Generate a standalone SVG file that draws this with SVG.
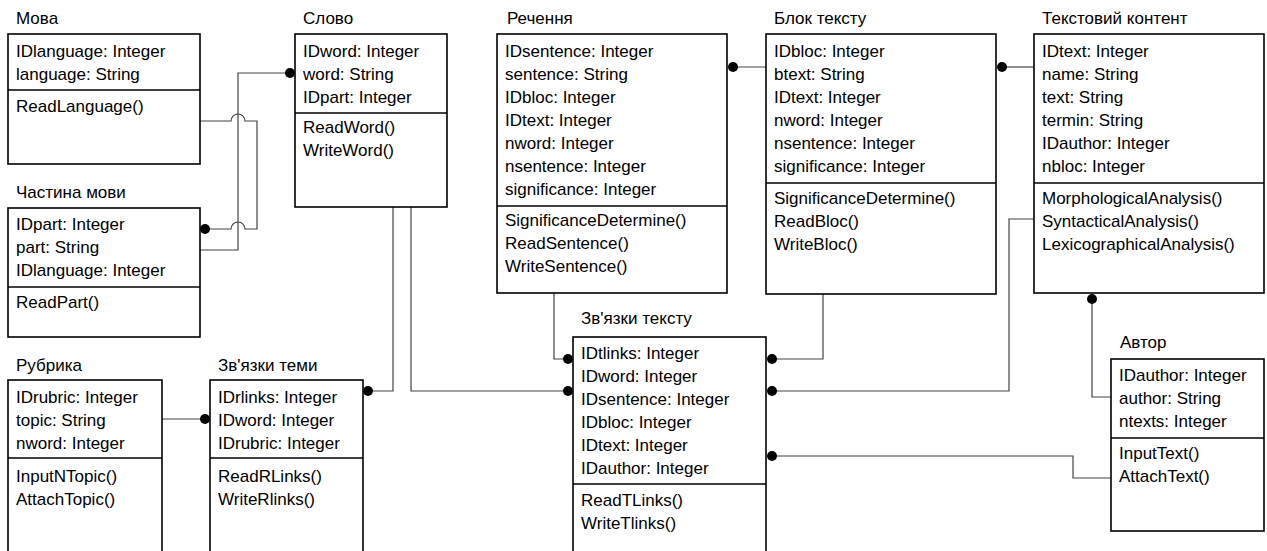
<svg xmlns="http://www.w3.org/2000/svg" width="1267" height="551" viewBox="0 0 1267 551">
<style>
text{font-family:"Liberation Sans",Arial,sans-serif;font-size:17px;fill:#000}
.box{fill:#fff;stroke:#000;stroke-width:1.6}
.div{stroke:#000;stroke-width:1.6}
.c{fill:none;stroke:#444;stroke-width:1.2}
.dot{fill:#000}
</style>
<rect width="1267" height="551" fill="#fff"/>
<g id="connectors">
<path class="c" d="M290,73 H238 V250 H200"/>
<path class="c" d="M200,121 H231 A7,7 0 0 1 245,121 H257 V229 H245 A7,7 0 0 0 231,229 H205"/>
<path class="c" d="M162,419 H205"/>
<path class="c" d="M393,207 V391 H368"/>
<path class="c" d="M411,207 V391 H568"/>
<path class="c" d="M554,293 V359 H568"/>
<path class="c" d="M733,67 H766"/>
<path class="c" d="M1002,67 H1034"/>
<path class="c" d="M823,294 V359 H772"/>
<path class="c" d="M1034,219 H1009 V391 H772"/>
<path class="c" d="M1092,299 V397 H1111"/>
<path class="c" d="M1111,478 H1073 V456 H772"/>
<circle class="dot" cx="290" cy="73" r="5"/>
<circle class="dot" cx="205" cy="229" r="5"/>
<circle class="dot" cx="205" cy="419" r="5"/>
<circle class="dot" cx="368" cy="391" r="5"/>
<circle class="dot" cx="568" cy="391" r="5"/>
<circle class="dot" cx="568" cy="359" r="5"/>
<circle class="dot" cx="733" cy="67" r="5"/>
<circle class="dot" cx="1002" cy="67" r="5"/>
<circle class="dot" cx="772" cy="359" r="5"/>
<circle class="dot" cx="772" cy="391" r="5"/>
<circle class="dot" cx="772" cy="456" r="5"/>
<circle class="dot" cx="1092" cy="299" r="5"/>
</g>
<g id="mova">
<text x="16" y="24">Мова</text>
<rect class="box" x="8" y="34" width="192" height="130"/>
<line class="div" x1="8" y1="90" x2="200" y2="90"/>
<text x="16" y="57">IDlanguage: Integer</text>
<text x="16" y="80">language: String</text>
<text x="16" y="112">ReadLanguage()</text>
</g>
<g id="chastyna">
<text x="16" y="198">Частина мови</text>
<rect class="box" x="8" y="208" width="192" height="129"/>
<line class="div" x1="8" y1="287" x2="200" y2="287"/>
<text x="16" y="230">IDpart: Integer</text>
<text x="16" y="253">part: String</text>
<text x="16" y="276">IDlanguage: Integer</text>
<text x="16" y="308">ReadPart()</text>
</g>
<g id="slovo">
<text x="303" y="24">Слово</text>
<rect class="box" x="295" y="34" width="152" height="173"/>
<line class="div" x1="295" y1="113" x2="447" y2="113"/>
<text x="303" y="57">IDword: Integer</text>
<text x="303" y="80">word: String</text>
<text x="303" y="103">IDpart: Integer</text>
<text x="303" y="133">ReadWord()</text>
<text x="303" y="156">WriteWord()</text>
</g>
<g id="rechennya">
<text x="507" y="24">Речення</text>
<rect class="box" x="497" y="34" width="230" height="259"/>
<line class="div" x1="497" y1="206" x2="727" y2="206"/>
<text x="505" y="57">IDsentence: Integer</text>
<text x="505" y="80">sentence: String</text>
<text x="505" y="103">IDbloc: Integer</text>
<text x="505" y="126">IDtext: Integer</text>
<text x="505" y="149">nword: Integer</text>
<text x="505" y="172">nsentence: Integer</text>
<text x="505" y="195">significance: Integer</text>
<text x="505" y="226">SignificanceDetermine()</text>
<text x="505" y="249">ReadSentence()</text>
<text x="505" y="272">WriteSentence()</text>
</g>
<g id="blok">
<text x="774" y="24">Блок тексту</text>
<rect class="box" x="766" y="34" width="230" height="260"/>
<line class="div" x1="766" y1="183" x2="996" y2="183"/>
<text x="774" y="57">IDbloc: Integer</text>
<text x="774" y="80">btext: String</text>
<text x="774" y="103">IDtext: Integer</text>
<text x="774" y="126">nword: Integer</text>
<text x="774" y="149">nsentence: Integer</text>
<text x="774" y="172">significance: Integer</text>
<text x="774" y="204">SignificanceDetermine()</text>
<text x="774" y="227">ReadBloc()</text>
<text x="774" y="250">WriteBloc()</text>
</g>
<g id="tekst">
<text x="1042" y="24">Текстовий контент</text>
<rect class="box" x="1034" y="34" width="230" height="259"/>
<line class="div" x1="1034" y1="183" x2="1264" y2="183"/>
<text x="1042" y="57">IDtext: Integer</text>
<text x="1042" y="80">name: String</text>
<text x="1042" y="103">text: String</text>
<text x="1042" y="126">termin: String</text>
<text x="1042" y="149">IDauthor: Integer</text>
<text x="1042" y="172">nbloc: Integer</text>
<text x="1042" y="204">MorphologicalAnalysis()</text>
<text x="1042" y="227">SyntacticalAnalysis()</text>
<text x="1042" y="250">LexicographicalAnalysis()</text>
</g>
<g id="rubryka">
<text x="16" y="371">Рубрика</text>
<rect class="box" x="8" y="380" width="154" height="185"/>
<line class="div" x1="8" y1="458" x2="162" y2="458"/>
<text x="16" y="403">IDrubric: Integer</text>
<text x="16" y="426">topic: String</text>
<text x="16" y="449">nword: Integer</text>
<text x="16" y="482">InputNTopic()</text>
<text x="16" y="505">AttachTopic()</text>
</g>
<g id="zvyazky-temy">
<text x="218" y="371">Зв'язки теми</text>
<rect class="box" x="210" y="380" width="153" height="185"/>
<line class="div" x1="210" y1="458" x2="363" y2="458"/>
<text x="218" y="403">IDrlinks: Integer</text>
<text x="218" y="426">IDword: Integer</text>
<text x="218" y="449">IDrubric: Integer</text>
<text x="218" y="482">ReadRLinks()</text>
<text x="218" y="505">WriteRlinks()</text>
</g>
<g id="zvyazky-tekstu">
<text x="581" y="324">Зв'язки тексту</text>
<rect class="box" x="573" y="337" width="193" height="230"/>
<line class="div" x1="573" y1="484" x2="766" y2="484"/>
<text x="581" y="359">IDtlinks: Integer</text>
<text x="581" y="382">IDword: Integer</text>
<text x="581" y="405">IDsentence: Integer</text>
<text x="581" y="428">IDbloc: Integer</text>
<text x="581" y="451">IDtext: Integer</text>
<text x="581" y="474">IDauthor: Integer</text>
<text x="581" y="506">ReadTLinks()</text>
<text x="581" y="529">WriteTlinks()</text>
</g>
<g id="avtor">
<text x="1120" y="348">Автор</text>
<rect class="box" x="1111" y="359" width="153" height="172"/>
<line class="div" x1="1111" y1="438" x2="1264" y2="438"/>
<text x="1119" y="381">IDauthor: Integer</text>
<text x="1119" y="404">author: String</text>
<text x="1119" y="427">ntexts: Integer</text>
<text x="1119" y="459">InputText()</text>
<text x="1119" y="482">AttachText()</text>
</g>
</svg>
